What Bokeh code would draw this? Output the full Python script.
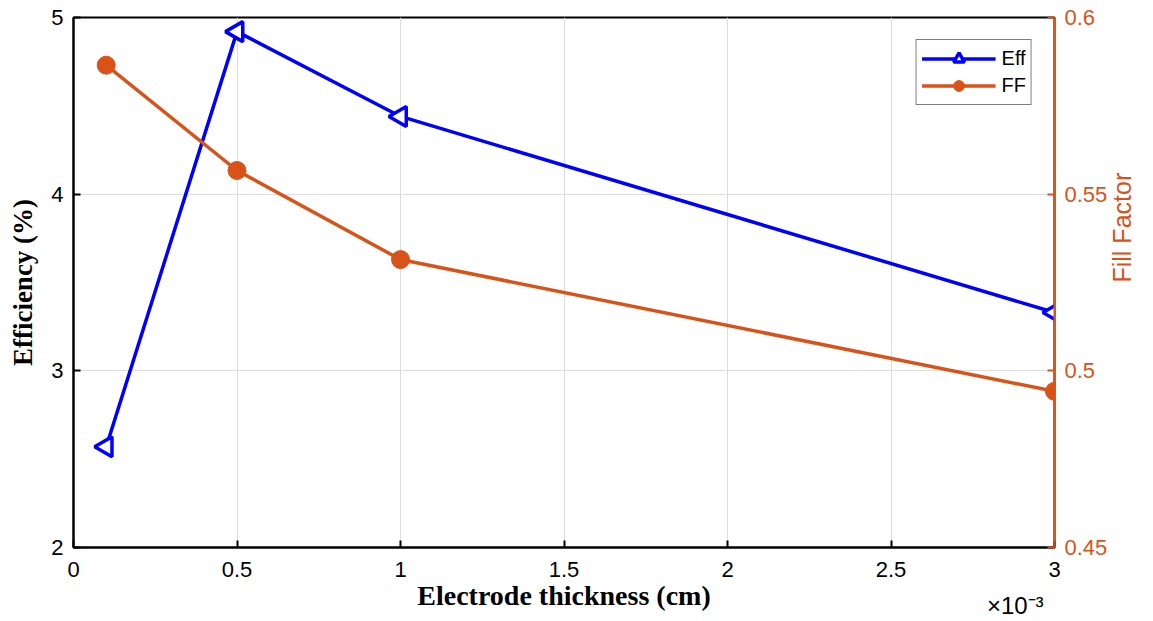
import numpy as np
from bokeh.plotting import figure
from bokeh.models import (LinearAxis, Range1d, FixedTicker, CustomJSTickFormatter,
                          Legend, LegendItem)
from bokeh.embed import file_html
from bokeh.resources import INLINE

thickness_cm = [0.1e-3, 0.5e-3, 1.0e-3, 3.0e-3]
efficiency = [2.57, 4.92, 4.44, 3.33]
fill_factor = [0.5865, 0.5567, 0.5315, 0.4942]
x_ticks = [0, 0.5e-3, 1.0e-3, 1.5e-3, 2.0e-3, 2.5e-3, 3.0e-3]
eff_ticks = [2, 3, 4, 5]
ff_ticks = [0.45, 0.5, 0.55, 0.6]
exponent_text = "×10⁻³"

BLUE = "#0000FF"
ORANGE = "#D95319"
TICK_FONT = "Liberation Sans"
TICK_SIZE = "22px"

p = figure(width=1153, height=621, output_backend="svg", toolbar_location=None,
           x_range=Range1d(0, 3e-3), y_range=Range1d(2, 5),
           min_border_left=73, min_border_right=98, min_border_top=17, min_border_bottom=73)
p.extra_y_ranges = {"ff": Range1d(0.45, 0.6)}

p.outline_line_color = "black"
p.outline_line_width = 2
p.xgrid.grid_line_color = "#DDDDDD"
p.ygrid.grid_line_color = "#DDDDDD"

xa = p.xaxis[0]
xa.ticker = FixedTicker(ticks=x_ticks)
xa.formatter = CustomJSTickFormatter(code="return String(Math.round(tick*1e4)/10);")
xa.axis_label = "Electrode thickness (cm)"
xa.axis_label_text_font = "Liberation Serif"
xa.axis_label_text_font_style = "bold"
xa.axis_label_text_font_size = "28px"
xa.axis_label_text_color = "black"
xa.axis_label_standoff = 0
xa.major_label_text_font = TICK_FONT
xa.major_label_text_font_size = TICK_SIZE
xa.major_label_text_color = "black"
xa.major_label_standoff = 14
xa.axis_line_width = 2
xa.major_tick_in = 7
xa.major_tick_out = 0
xa.major_tick_line_width = 2
xa.minor_tick_line_color = None

# exponent shown as the single tick label of an extra, line-less axis
ea = LinearAxis(ticker=FixedTicker(ticks=[2.88e-3]))
ea.formatter = CustomJSTickFormatter(code="return '" + exponent_text + "';")
ea.axis_line_color = None
ea.major_tick_line_color = None
ea.minor_tick_line_color = None
ea.major_label_text_font = TICK_FONT
ea.major_label_text_font_size = "24px"
ea.major_label_text_color = "black"
ea.major_label_standoff = -28
p.add_layout(ea, "below")

ya = p.yaxis[0]
ya.ticker = FixedTicker(ticks=eff_ticks)
ya.axis_label = "Efficiency (%)"
ya.axis_label_text_font = "Liberation Serif"
ya.axis_label_text_font_style = "bold"
ya.axis_label_text_font_size = "27px"
ya.axis_label_text_color = "black"
ya.axis_label_standoff = 10
ya.major_label_text_font = TICK_FONT
ya.major_label_text_font_size = TICK_SIZE
ya.major_label_text_color = "black"
ya.major_label_standoff = 10
ya.axis_line_width = 2
ya.major_tick_in = 7
ya.major_tick_out = 0
ya.major_tick_line_width = 2
ya.minor_tick_line_color = None

ra = LinearAxis(y_range_name="ff", ticker=FixedTicker(ticks=ff_ticks),
                axis_label="Fill Factor")
ra.axis_label_text_font = TICK_FONT
ra.axis_label_text_font_style = "normal"
ra.axis_label_text_font_size = "25px"
ra.axis_label_text_color = ORANGE
ra.axis_label_standoff = 12
ra.axis_label_orientation = np.pi / 2
ra.major_label_text_font = TICK_FONT
ra.major_label_text_font_size = TICK_SIZE
ra.major_label_text_color = ORANGE
ra.major_label_standoff = 10
ra.axis_line_color = ORANGE
ra.axis_line_width = 2
ra.major_tick_line_color = ORANGE
ra.major_tick_line_width = 2
ra.major_tick_in = 7
ra.major_tick_out = 0
ra.minor_tick_line_color = None
p.add_layout(ra, "right")

l1 = p.line(thickness_cm, efficiency, line_color=BLUE, line_width=3.5)
s1 = p.scatter(thickness_cm, efficiency, marker="triangle", size=20, angle=np.pi / 2,
               line_color=BLUE, line_width=3.5, fill_color="white")
l2 = p.line(thickness_cm, fill_factor, line_color=ORANGE, line_width=3.5, y_range_name="ff")
s2 = p.scatter(thickness_cm, fill_factor, marker="circle", size=18, y_range_name="ff",
               line_color=ORANGE, fill_color=ORANGE)

legend = Legend(items=[LegendItem(label="Eff", renderers=[l1, s1]),
                       LegendItem(label="FF", renderers=[l2, s2])],
                location="top_right")
legend.label_text_font = TICK_FONT
legend.label_text_font_size = "20px"
legend.label_text_color = "black"
legend.glyph_width = 74
legend.glyph_height = 27
legend.spacing = 0
legend.padding = 5
legend.margin = 22
legend.border_line_color = "black"
legend.border_line_width = 1
legend.label_standoff = 6
p.add_layout(legend)

open("out.html", "w").write(file_html(p, INLINE))
